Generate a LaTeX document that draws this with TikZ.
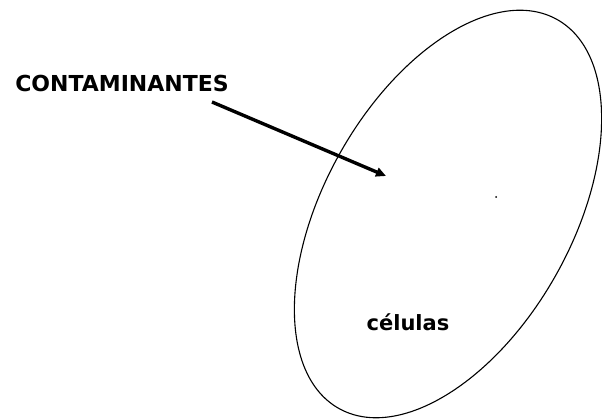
\documentclass[tikz,border=0pt]{standalone}
\usepackage{fontspec}
\setmainfont{DejaVu Sans}
\usepackage{tikz}
\usetikzlibrary{arrows.meta,positioning,shapes.geometric}
\tikzset{
  lbl/.style={font=\bfseries\fontsize{22}{26}\selectfont, inner sep=0pt},
  cellbox/.style={draw=black, line width=1.1pt, ellipse, inner sep=0pt, minimum width=446pt, minimum height=248pt},
  farr/.style={-{Triangle[length=10pt,width=9pt]}, line width=3.4pt}
}
\begin{document}
\begin{tikzpicture}[x=1pt,y=1pt]
\useasboundingbox (0,0) rectangle (602,420);
\node[cellbox, rotate=60.7] (cell) at (448,206) {};
\node[lbl] (cont) at (122,337) {CONTAMINANTES};
\node[lbl, font=\bfseries\fontsize{21}{25}\selectfont] (cel) at (408,98) {células};
\coordinate (src) at (212,318);
\coordinate (tip) at (386,244);
\draw[farr] (src)--(tip);
\fill (496,223) circle (1pt);
\end{tikzpicture}
\end{document}
